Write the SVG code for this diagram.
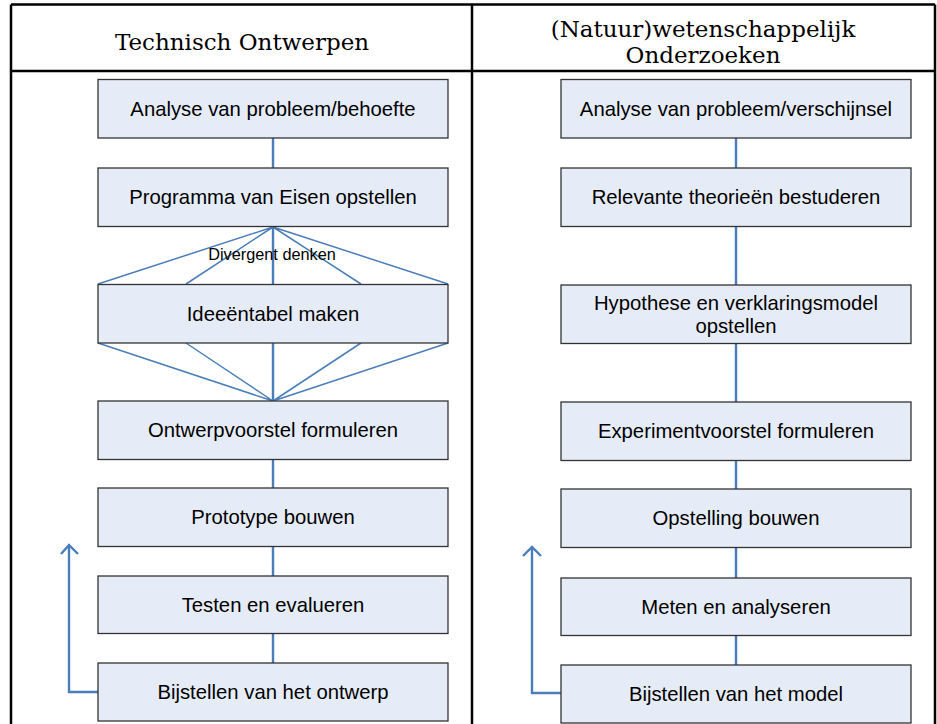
<svg xmlns="http://www.w3.org/2000/svg" width="937" height="724" viewBox="0 0 937 724">
<style>
.frame{stroke:#000;stroke-width:2.5;fill:none}
.box{fill:#e6ecf7;stroke:#333;stroke-width:1.3}
.lbl{font-family:"Liberation Sans",Arial,sans-serif;font-size:20.3px;fill:#000;text-anchor:middle}
.hdr{font-family:"DejaVu Serif","Liberation Serif",serif;font-size:23px;fill:#000;text-anchor:middle}
.con{stroke:#4a7ebb;stroke-width:2.4;fill:none}
.thin{stroke:#4a7ebb;stroke-width:1.5;fill:none}
.note{font-family:"Liberation Sans",Arial,sans-serif;font-size:16.3px;fill:#000;text-anchor:middle}
</style>
<rect x="0" y="0" width="937" height="724" fill="#fff"/>
<g id="table">
<path class="frame" d="M11,4.5 H935 M11,71 H935 M11,4.5 V724 M935,4.5 V724 M472,4.5 V724"/>
</g>
<g id="header-left"><text class="hdr" x="242" y="50">Technisch Ontwerpen</text></g>
<g id="header-right"><text class="hdr" x="703" y="37">(Natuur)wetenschappelijk</text><text class="hdr" x="703" y="63">Onderzoeken</text></g>
<g id="connectors">
<path class="con" d="M273,138 V168 M273,460 V488 M273,546 V576 M273,633 V663"/>
<path class="thin" d="M273,227 L98,284 M273,227 L186,284 M273,227 L361,284 M273,227 L448,284 M98,343 L273,401 M186,343 L273,401 M361,343 L273,401 M448,343 L273,401"/>
<path class="con" d="M273,227 V284 M273,343 V401"/>
<path class="con" d="M736,138 V168 M736,227 V285 M736,343 V402 M736,461 V489 M736,548 V578 M736,635 V665"/>
<path class="con" d="M98,692 H69 V545 M61,554 L69,545 L78,554"/>
<path class="con" d="M561,693 H532 V547 M523,556 L532,547 L541,556"/>
</g>
<g id="divergent-label"><text class="note" x="272" y="260">Divergent denken</text></g>
<g id="t1"><rect class="box" x="98" y="79.5" width="350" height="58.5"/><text class="lbl" x="273" y="116">Analyse van probleem/behoefte</text></g>
<g id="t2"><rect class="box" x="98" y="168" width="350" height="58.5"/><text class="lbl" x="273" y="204">Programma van Eisen opstellen</text></g>
<g id="t3"><rect class="box" x="98" y="284.5" width="350" height="58.5"/><text class="lbl" x="273" y="321">Ideeëntabel maken</text></g>
<g id="t4"><rect class="box" x="98" y="401" width="350" height="58.5"/><text class="lbl" x="273" y="437">Ontwerpvoorstel formuleren</text></g>
<g id="t5"><rect class="box" x="98" y="488" width="350" height="58.5"/><text class="lbl" x="273" y="524">Prototype bouwen</text></g>
<g id="t6"><rect class="box" x="98" y="576" width="350" height="57.5"/><text class="lbl" x="273" y="612">Testen en evalueren</text></g>
<g id="t7"><rect class="box" x="98" y="663" width="350" height="58"/><text class="lbl" x="273" y="699">Bijstellen van het ontwerp</text></g>
<g id="w1"><rect class="box" x="561" y="79.5" width="350" height="58.5"/><text class="lbl" x="736" y="116">Analyse van probleem/verschijnsel</text></g>
<g id="w2"><rect class="box" x="561" y="168" width="350" height="58.5"/><text class="lbl" x="736" y="204">Relevante theorieën bestuderen</text></g>
<g id="w3"><rect class="box" x="561" y="285" width="350" height="58.5"/><text class="lbl" x="736" y="309.5">Hypothese en verklaringsmodel</text><text class="lbl" x="736" y="333">opstellen</text></g>
<g id="w4"><rect class="box" x="561" y="402" width="350" height="58.5"/><text class="lbl" x="736" y="438">Experimentvoorstel formuleren</text></g>
<g id="w5"><rect class="box" x="561" y="489" width="350" height="58.5"/><text class="lbl" x="736" y="525">Opstelling bouwen</text></g>
<g id="w6"><rect class="box" x="561" y="578" width="350" height="57.5"/><text class="lbl" x="736" y="614">Meten en analyseren</text></g>
<g id="w7"><rect class="box" x="561" y="665" width="350" height="58"/><text class="lbl" x="736" y="701">Bijstellen van het model</text></g>
</svg>
